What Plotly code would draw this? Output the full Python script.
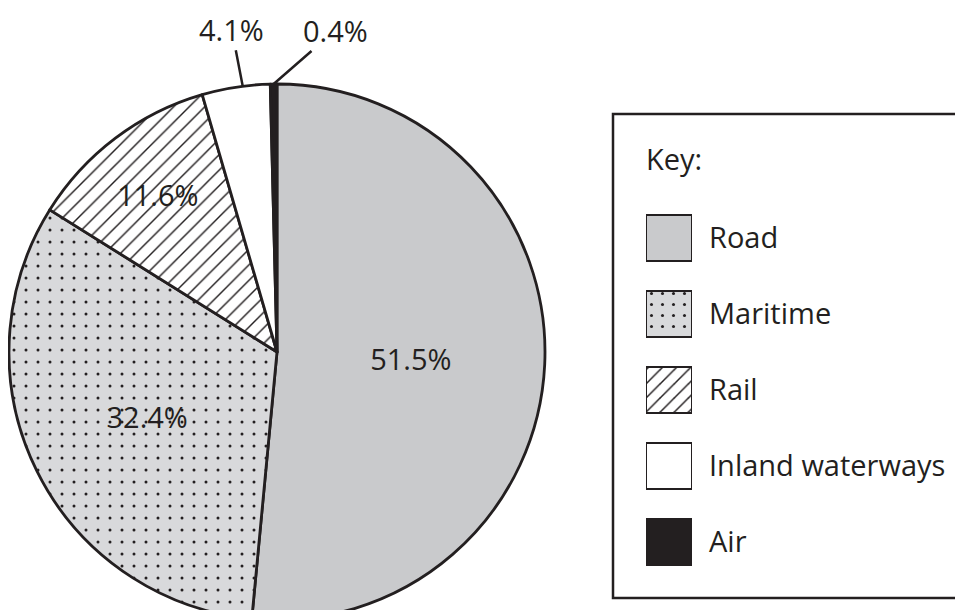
import math
import plotly.graph_objects as go

# ---- data ----
modes = ["Road", "Maritime", "Rail", "Inland waterways", "Air"]
shares = [51.5, 32.4, 11.6, 4.1, 0.4]
label_pos = ["inside", "inside", "inside", "none", "none"]

# ---- styles ----
INK = "#231f20"
fills = ["#c9cacc", "#d8d9db", "#ffffff", "#ffffff", INK]
patterns = ["", ".", "/", "", ""]
pat_size = [8, 12, 11, 8, 8]
pat_sol = [0.1, 0.05, 0.13, 0.1, 0.1]
leg_size = [8, 11, 10, 8, 8]
leg_sol = [0.1, 0.06, 0.15, 0.1, 0.1]
FONT = "Open Sans"
FS = 29

# page <-> figure mapping (page body has an 8px margin)
OFF = 8
W, H = 963, 612
px = lambda v: (v - OFF) / W
py = lambda v: (H - (v - OFF)) / H

# pie box in page pixels
PIE_L, PIE_R, PIE_T, PIE_B = 9, 545, 84, 620
cx, cy = (PIE_L + PIE_R) / 2, (PIE_T + PIE_B) / 2
rad = (PIE_R - PIE_L) / 2

fig = go.Figure()

fig.add_trace(go.Pie(
    labels=modes,
    values=shares,
    text=[f"{v}%" for v in shares],
    textinfo="text",
    textposition=label_pos,
    insidetextorientation="horizontal",
    sort=False,
    direction="clockwise",
    rotation=0,
    marker=dict(
        colors=fills,
        line=dict(color=INK, width=2.8),
        pattern=dict(shape=patterns, bgcolor=fills, fgcolor=INK,
                     size=pat_size, solidity=pat_sol, fillmode="replace"),
    ),
    textfont=dict(family=FONT, size=FS, color=INK),
    domain=dict(x=[px(PIE_L), px(PIE_R)], y=[py(PIE_B), py(PIE_T)]),
    showlegend=False,
    hoverinfo="label+percent",
))

# legend swatches drawn as unit bars (one trace per mode)
for i, m in enumerate(modes):
    pat = dict(shape=patterns[i], fgcolor=INK, bgcolor=fills[i],
               size=leg_size[i], solidity=leg_sol[i], fillmode="replace") \
        if patterns[i] else dict(shape="")
    fig.add_trace(go.Bar(
        x=[1], y=[m],
        orientation="h",
        width=0.605,
        marker=dict(color=fills[i], line=dict(color=INK, width=2), pattern=pat),
        xaxis="x2", yaxis="y2",
        showlegend=False,
        hoverinfo="skip",
    ))

# outside labels for the two small slices, with leader lines to the rim
total = sum(shares)
callouts = {3: (0.6, -11, -57), 4: (0.5, 62, -54)}
annotations = []
for i, (frac, ax, ay) in callouts.items():
    start = sum(shares[:i]) / total
    theta = 2 * math.pi * (start + frac * shares[i] / total)
    tx = cx + rad * math.sin(theta)
    ty = cy - rad * math.cos(theta)
    annotations.append(dict(
        text=f"{shares[i]}%", xref="paper", yref="paper",
        x=px(tx), y=py(ty), ax=ax, ay=ay,
        showarrow=True, arrowhead=0, arrowwidth=2.5, arrowcolor=INK,
        standoff=0, startstandoff=0,
        font=dict(family=FONT, size=FS, color=INK)))

annotations.append(dict(text="Key:", xref="paper", yref="paper",
                        x=px(644), y=py(158), xanchor="left", yanchor="middle",
                        showarrow=False, font=dict(family=FONT, size=FS, color=INK)))

fig.update_layout(
    width=W, height=H,
    margin=dict(l=0, r=0, t=0, b=0),
    paper_bgcolor="white", plot_bgcolor="white",
    barmode="overlay",
    font=dict(family=FONT, size=FS, color=INK),
    xaxis2=dict(domain=[px(646), px(692)], range=[0, 1], visible=False,
                anchor="y2", fixedrange=True),
    yaxis2=dict(domain=[py(580), py(200)], anchor="x2", type="category",
                categoryorder="array", categoryarray=modes,
                range=[len(modes) - 0.5, -0.5], side="right",
                showgrid=False, zeroline=False, showline=False, ticks="",
                ticklabelstandoff=16, tickfont=dict(family=FONT, size=FS, color=INK),
                fixedrange=True),
    shapes=[dict(type="rect", xref="paper", yref="paper",
                 x0=px(613), x1=px(980), y0=py(598), y1=py(114),
                 line=dict(color=INK, width=2.5), fillcolor="rgba(0,0,0,0)",
                 layer="below")],
    annotations=annotations,
)

fig.write_html("out.html")
